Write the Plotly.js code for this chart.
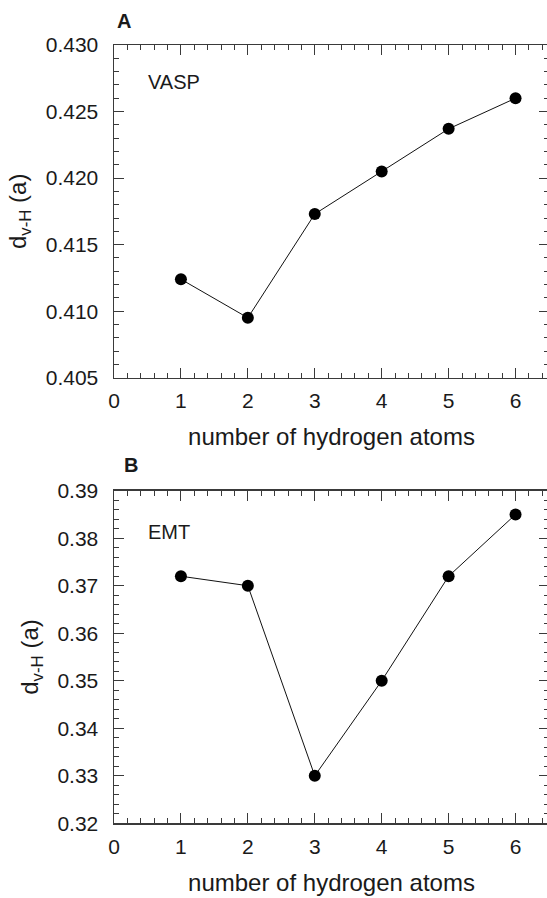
<!DOCTYPE html>
<html>
<head>
<meta charset="utf-8">
<script src="https://cdn.plot.ly/plotly-3.0.1.min.js"></script>
<style>
html,body{margin:0;padding:0;overflow:hidden;background:#fff;}
#chart{width:550px;height:898px;}
</style>
</head>
<body>
<div id="chart"></div>
<script>
// Data
const hydrogenAtoms = [1, 2, 3, 4, 5, 6];
const vaspDistance = [0.4124, 0.4095, 0.4173, 0.4205, 0.4237, 0.4260];
const emtDistance = [0.372, 0.370, 0.330, 0.350, 0.372, 0.385];
const panelLabels = ['A', 'B'];
const methodLabels = ['VASP', 'EMT'];
const xTitle = 'number of hydrogen atoms';
const yTitle = 'd<sub>v-H</sub> (a)';

const W = 550, H = 898, L = 114, R = 1;
const FONT = 'Liberation Sans, Arial, Helvetica, sans-serif';
const TXT = '#1a1a1a';
const AX = '#3a3a3a';

function px2x(px){ return (px - L) / (W - L - R); }
function py2y(py){ return 1 - py / H; }

const lineStyle = {color: '#111', width: 1};
const markerStyle = {color: '#000', size: 12};

const traces = [
  {x: hydrogenAtoms, y: vaspDistance, xaxis: 'x', yaxis: 'y', mode: 'lines+markers',
   line: lineStyle, marker: markerStyle, hoverinfo: 'none'},
  {x: hydrogenAtoms, y: emtDistance, xaxis: 'x2', yaxis: 'y2', mode: 'lines+markers',
   line: lineStyle, marker: markerStyle, hoverinfo: 'none'}
];

function xAxis(anchor){
  return {
    anchor: anchor, domain: [0, 1], range: [0, 6.5], dtick: 1, tick0: 0,
    ticks: 'inside', ticklen: 10, tickwidth: 1, tickcolor: AX,
    minor: {dtick: 0.2, tick0: 0, ticks: 'inside', ticklen: 5, tickwidth: 1, tickcolor: AX, showgrid: false},
    showline: true, linecolor: AX, linewidth: 1.5, mirror: 'allticks',
    showgrid: false, zeroline: false, automargin: false,
    tickfont: {family: FONT, size: 21, color: TXT},
    ticklabelstandoff: 4,
    title: {text: xTitle, font: {family: FONT, size: 24, color: TXT}, standoff: 17}
  };
}
function yAxis(anchor, domain, range, dtick, minorDtick, fmt){
  return {
    anchor: anchor, domain: domain, range: range, dtick: dtick, tick0: range[0],
    tickformat: fmt,
    ticks: 'inside', ticklen: 10, tickwidth: 1, tickcolor: AX,
    minor: {dtick: minorDtick, tick0: range[0], ticks: 'inside', ticklen: 5, tickwidth: 1, tickcolor: AX, showgrid: false},
    showline: true, linecolor: AX, linewidth: 1.5, mirror: 'allticks',
    showgrid: false, zeroline: false, automargin: false,
    tickfont: {family: FONT, size: 21, color: TXT},
    ticklabelstandoff: 10,
    title: {text: yTitle, font: {family: FONT, size: 24, color: TXT}, standoff: 12}
  };
}

const layout = {
  width: W, height: H,
  margin: {l: L, r: R, t: 0, b: 0, pad: 0},
  paper_bgcolor: '#fff', plot_bgcolor: '#fff',
  showlegend: false,
  font: {family: FONT, color: TXT},
  xaxis: xAxis('y'),
  yaxis: yAxis('x', [py2y(377.7), py2y(45)], [0.405, 0.430], 0.005, 0.001, '.3f'),
  xaxis2: xAxis('y2'),
  yaxis2: yAxis('x2', [py2y(823.3), py2y(490.7)], [0.32, 0.39], 0.01, 0.002, '.2f'),
  annotations: [
    {text: '<b>' + panelLabels[0] + '</b>', xref: 'paper', yref: 'paper', x: px2x(123.5), y: py2y(21),
     xanchor: 'center', yanchor: 'middle', showarrow: false, font: {family: FONT, size: 20, color: TXT}},
    {text: '<b>' + panelLabels[1] + '</b>', xref: 'paper', yref: 'paper', x: px2x(130.5), y: py2y(465),
     xanchor: 'center', yanchor: 'middle', showarrow: false, font: {family: FONT, size: 20, color: TXT}},
    {text: methodLabels[0], xref: 'paper', yref: 'paper', x: px2x(146), y: py2y(82),
     xanchor: 'left', yanchor: 'middle', showarrow: false, font: {family: FONT, size: 20, color: TXT}},
    {text: methodLabels[1], xref: 'paper', yref: 'paper', x: px2x(146), y: py2y(532),
     xanchor: 'left', yanchor: 'middle', showarrow: false, font: {family: FONT, size: 20, color: TXT}}
  ]
};

Plotly.newPlot('chart', traces, layout, {staticPlot: true, displayModeBar: false});
</script>
</body>
</html>
